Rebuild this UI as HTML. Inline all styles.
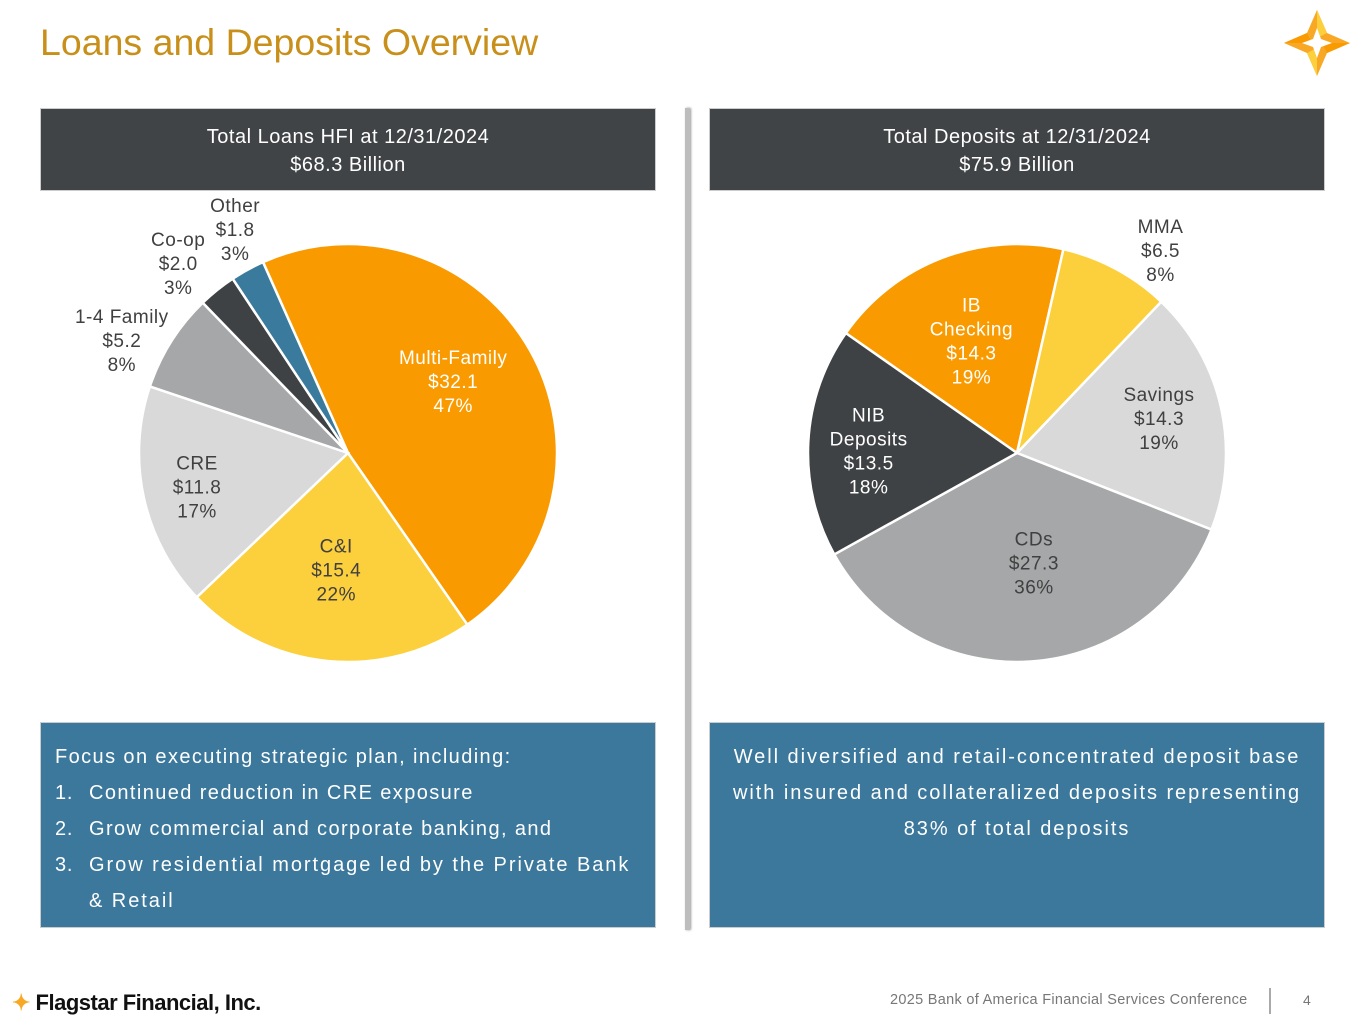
<!DOCTYPE html>
<html><head><meta charset="utf-8"><style>
body{margin:0;width:1365px;height:1024px;background:#fff;font-family:"Liberation Sans",sans-serif;position:relative;overflow:hidden}
.abs{position:absolute}
.hdr{background:#404446;color:#fff;font-size:20px;letter-spacing:0.5px;text-align:center;line-height:28px;padding-top:14px;box-sizing:border-box;height:83px;border:1px solid #ccc}
.box{background:#3B789C;color:#fff;font-size:20px;letter-spacing:1.95px;box-sizing:border-box;height:206px;border:1px solid #ccc;line-height:36px}
</style></head><body>
<div class="abs" style="left:40px;top:21px;font-size:37.5px;color:#C8901A">Loans and Deposits Overview</div>
<svg class="abs" style="left:1282px;top:8px" width="70" height="70" viewBox="0 0 70 70">
<polygon points="35,2 45,25 68,35 45,45 35,68 25,45 2,35 25,25" fill="#F9A825"/>
<polygon points="35,2 45,25 35,30" fill="#FCCF3D"/><polygon points="68,35 45,45 40,35" fill="#F99B00"/>
<polygon points="35,68 25,45 35,40" fill="#FCCF3D"/><polygon points="2,35 25,25 30,35" fill="#F99B00"/>
<polygon points="35,20 39,31 50,35 39,39 35,50 31,39 20,35 31,31" fill="#fff"/>
</svg>
<div class="abs hdr" style="left:40px;top:108px;width:616px">Total Loans HFI at 12/31/2024<br>$68.3 Billion</div>
<div class="abs hdr" style="left:709px;top:108px;width:616px">Total Deposits at 12/31/2024<br>$75.9 Billion</div>
<div class="abs" style="left:685px;top:108px;width:5px;height:822px;background:#bdbdbd;box-shadow:1px 0 2px #999"></div>
<svg class="abs" id="chart" style="left:0;top:0" width="1365" height="1024"></svg>
<div class="abs box" style="left:40px;top:722px;width:616px;padding:16px 14px;letter-spacing:1.4px">
Focus on executing strategic plan, including:<br>
<div style="display:flex"><span style="width:34px;letter-spacing:0.75px">1.</span><span>Continued reduction in CRE exposure</span></div>
<div style="display:flex"><span style="width:34px;letter-spacing:0.75px">2.</span><span>Grow commercial and corporate banking, and</span></div>
<div style="display:flex"><span style="width:34px;flex:none;letter-spacing:0.75px">3.</span><span style="white-space:nowrap;letter-spacing:1.95px">Grow residential mortgage led by the Private Bank<br>&amp; Retail</span></div>
</div>
<div class="abs box" style="left:709px;top:722px;width:616px;padding:16px 0;text-align:center;white-space:nowrap">Well diversified and retail-concentrated deposit base<br>with insured and collateralized deposits representing<br>83% of total deposits</div>
<div class="abs" style="left:12px;top:990px;font-size:22px;font-weight:bold;color:#111;letter-spacing:-0.5px"><span style="color:#F9A825">✦</span> Flagstar Financial, Inc.</div>
<div class="abs" style="left:890px;top:992px;font-size:14.5px;letter-spacing:0.3px;color:#777">2025 Bank of America Financial Services Conference</div>
<div class="abs" style="left:1269px;top:988px;width:2px;height:26px;background:#aaa"></div>
<div class="abs" style="left:1303px;top:992px;font-size:14px;color:#777">4</div>
<script>
const loanCats=["Multi-Family","C&I","CRE","1-4 Family","Co-op","Other"];
const loanVals=[32.1,15.4,11.8,5.2,2.0,1.8];
const loanPcts=["47%","22%","17%","8%","3%","3%"];
const depCats=["IB Checking","MMA","Savings","CDs","NIB Deposits"];
const depVals=[14.3,6.5,14.3,27.3,13.5];
const depPcts=["19%","8%","19%","36%","18%"];
// label placement styling
const loanLabR=[0.61,0.56,0.74,1.21,1.22,1.2];
const loanLabA=[-5,0,0,-5.7,-3,2];
const depLabR=[0.58,1.19,0.70,0.53,0.71];
const depLabA=[-1,7,-1.5,-5,-2];
const loanColors=["#F99B00","#FCCF3D","#D9D9D9","#A5A7A8","#3F4244","#3A7A9C"];
const loanText=["#fff","#404040","#404040","#404040","#404040","#404040"];
const depColors=["#F99B00","#FCCF3D","#D9D9D9","#A5A7A8","#3F4244"];
const depText=["#fff","#404040","#404040","#404040","#fff"];
const svg=document.getElementById('chart');const NS="http://www.w3.org/2000/svg";
function pie(cx,cy,R,start,cats,vals,pcts,labR,labA,cols,txt,name,splitNames){
  const tot=vals.reduce((a,b)=>a+b,0);let a=start;
  const pt=(ang,r)=>[cx+r*Math.sin(ang*Math.PI/180),cy-r*Math.cos(ang*Math.PI/180)];
  vals.forEach((v,i)=>{
    const sw=v/tot*360,b=a+sw;const p1=pt(a,R),p2=pt(b,R);
    const path=document.createElementNS(NS,'path');
    path.setAttribute('d',`M${cx},${cy}L${p1[0]},${p1[1]}A${R},${R} 0 ${sw>180?1:0} 1 ${p2[0]},${p2[1]}Z`);
    path.setAttribute('fill',cols[i]);path.setAttribute('stroke','#fff');path.setAttribute('stroke-width','2.5');
    
    
    svg.appendChild(path);
    const m=a+sw/2+labA[i];const out=labR[i]>1;const lp=pt(m,R*labR[i]);
    const lines=(splitNames[cats[i]]||[cats[i]]).concat(['$'+v.toFixed(1),pcts[i]]);
    const t=document.createElementNS(NS,'text');
    t.setAttribute('text-anchor','middle');t.setAttribute('font-size','19');t.setAttribute('font-family','Liberation Sans, sans-serif');
    t.setAttribute('letter-spacing','0.5');
    t.setAttribute('fill',out?'#404040':txt[i]);
    
    
    lines.forEach((s,k)=>{const ts=document.createElementNS(NS,'tspan');ts.setAttribute('x',lp[0]);ts.setAttribute('y',lp[1]+(k-(lines.length-1)/2)*24+7);ts.textContent=s;t.appendChild(ts);});
    svg.appendChild(t);a=b;
  });
}
pie(348,453,209,-24,loanCats,loanVals,loanPcts,loanLabR,loanLabA,loanColors,loanText,'loans',{});
pie(1017,453,209,-55,depCats,depVals,depPcts,depLabR,depLabA,depColors,depText,'deposits',{"IB Checking":["IB","Checking"],"NIB Deposits":["NIB","Deposits"]});
</script>
</body></html>
